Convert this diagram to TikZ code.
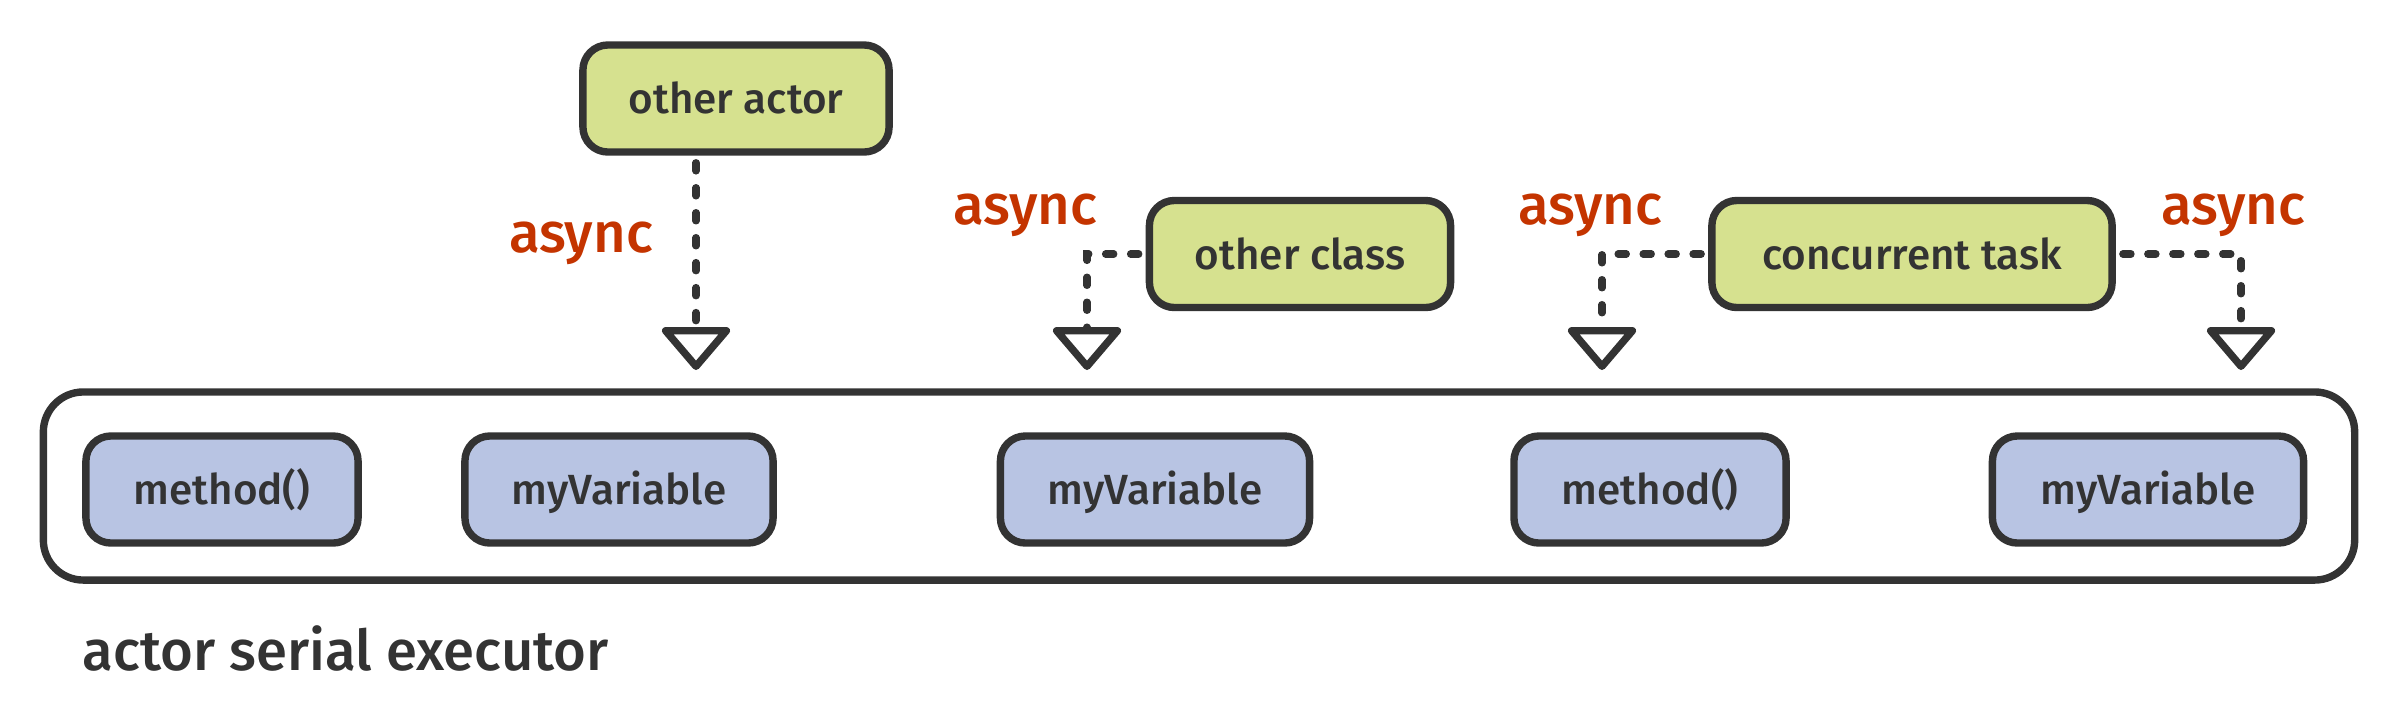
\documentclass[tikz,border=0pt]{standalone}
\usepackage{fontspec}
\setmainfont{Fira Sans Medium}
\usetikzlibrary{arrows.meta}
\definecolor{ink}{RGB}{51,51,51}
\definecolor{leaf}{RGB}{214,225,143}
\definecolor{sky}{RGB}{184,196,227}
\definecolor{rust}{RGB}{196,52,0}
\tikzset{
    box/.style={draw=ink, line width=2.1pt, rounded corners=0.25cm, minimum height=1.07cm,
        inner sep=0pt, text=ink, text height=0.86em, text depth=0pt, font=\fontsize{12}{14}\selectfont},
    task/.style={box, fill=leaf},
    member/.style={box, fill=sky},
    call/.style={ink, line width=2.1pt, line cap=round, dash pattern=on 2.3pt off 4.8pt,
        -{Triangle[open, round, length=0.45cm, width=0.75cm]}},
    tag/.style={anchor=base, inner sep=0pt, text=rust, font=\fontsize{16}{18}\selectfont}
}

\begin{document}
\begin{tikzpicture}[x=0.01cm, y=-0.01cm]
            \useasboundingbox (0,0) rectangle (2400,720);
            \node[draw=ink, line width=2.1pt, rounded corners=0.4cm, minimum width=23.1cm, minimum height=1.88cm]
                (executor) at (1199,486) {};
            \foreach \x/\w/\t [count=\i] in {222/2.72/method(), 619/3.08/myVariable, 1155/3.09/myVariable,
                                             1650/2.72/method(), 2148/3.11/myVariable}{
                \node[member, minimum width=\w cm] (slot\i) at (\x,489.5) {\t};
            }
            \node[task, minimum width=3.06cm] (actor) at (736,98.5) {other actor};
            \node[task, minimum width=3.01cm] (klass) at (1300,254) {other class};
            \node[task, minimum width=4.00cm] (ctask) at (1912,254) {concurrent task};
            \coordinate (tip1) at (696,370);
            \coordinate (tip2) at (1087,370);
            \coordinate (tip3) at (1602,370);
            \coordinate (tip4) at (2241,370);
            \draw[call, shorten <=2pt] (actor.south -| tip1) -- (tip1);
            \draw[call, shorten <=2pt] (klass.west) -| (tip2);
            \draw[call, shorten <=2pt] (ctask.west) -| (tip3);
            \draw[call, shorten <=2pt] (ctask.east) -| (tip4);
            \foreach \x/\y [count=\i] in {581/252, 1025/224, 1590/224, 2233/224}{
                \node[tag] (async\i) at (\x,\y) {async};
            }
            \node[anchor=base west, inner sep=0pt, text=ink, font=\fontsize{16}{19}\selectfont]
                (caption) at (82,670) {actor serial executor};
        \end{tikzpicture}
\end{document}
